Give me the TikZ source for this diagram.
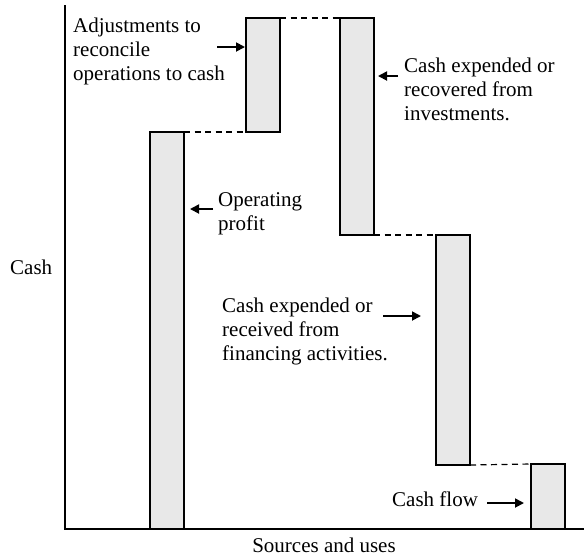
\documentclass[tikz,border=0pt]{standalone}
\usepackage{fontspec}
\setmainfont{Liberation Serif}
\usetikzlibrary{arrows.meta}
\definecolor{barfill}{HTML}{E8E8E8}
\begin{document}
\begin{tikzpicture}[x=1pt,y=-1pt,
  bar/.style={draw=black, line width=1.5pt, fill=barfill, inner sep=0pt, outer sep=0pt,
              minimum width=34pt, anchor=north west},
  guide/.style={line width=1.2pt, dash pattern=on 6pt off 4.5pt},
  ptr/.style={line width=1.8pt, -{Triangle[length=9pt,width=9pt]}},
  axis/.style={line width=2pt},
  lbl/.style={font=\fontsize{21}{24}\selectfont, inner sep=0pt, align=left, anchor=base west}]
\useasboundingbox (0,0) rectangle (584,558);

% bars of the cash waterfall
\node[bar, minimum height=397pt] (op)  at (150,132) {};
\node[bar, minimum height=114pt] (adj) at (246,18)  {};
\node[bar, minimum height=217pt] (inv) at (340,18)  {};
\node[bar, minimum height=230pt] (fin) at (436,235) {};
\node[bar, minimum height=65pt]  (cf)  at (531,464) {};

% dashed level guides between consecutive bars
\draw[guide] (op.north east) -- (adj.south west);
\draw[guide] (adj.north east) -- (inv.north west);
\draw[guide] (inv.south east) -- (fin.north west);
\draw[guide] (fin.south east) -- (cf.north west);

% axes
\coordinate (ytop) at (64.5,5);
\coordinate (orig) at (64.5,529);
\coordinate (xend) at (584,529);
\draw[axis] (ytop) -- (orig) -- (xend);

% axis titles
\node[lbl] (ylab) at (10,274) {Cash};
\node[lbl, anchor=base] (xlab) at (324,552) {Sources and uses};

% explanatory labels (placed by the baseline of their last line)
\node[lbl] (tadj) at (73,80) {Adjustments to\\reconcile\\operations to cash};
\node[lbl] (tinv) at (404,120) {Cash expended or\\recovered from\\investments.};
\node[lbl] (top) at (218,230) {Operating\\profit};
\node[lbl] (tfin) at (222,360) {Cash expended or\\received from\\financing activities.};
\node[lbl] (tcf) at (392,506) {Cash flow};

% pointers from labels to bars
\coordinate (adjTail) at (217,47);
\coordinate (invTail) at (398,76);
\coordinate (opTail)  at (213,209);
\coordinate (finTail) at (383,316);
\coordinate (cfTail)  at (487,503);
\draw[ptr, shorten >=1pt]  (adjTail) -- (adj.west |- adjTail);
\draw[ptr, shorten >=4pt]  (invTail) -- (inv.east |- invTail);
\draw[ptr, shorten >=6pt]  (opTail)  -- (op.east |- opTail);
\draw[ptr, shorten >=15pt] (finTail) -- (fin.west |- finTail);
\draw[ptr, shorten >=7pt]  (cfTail)  -- (cf.west |- cfTail);
\end{tikzpicture}
\end{document}
